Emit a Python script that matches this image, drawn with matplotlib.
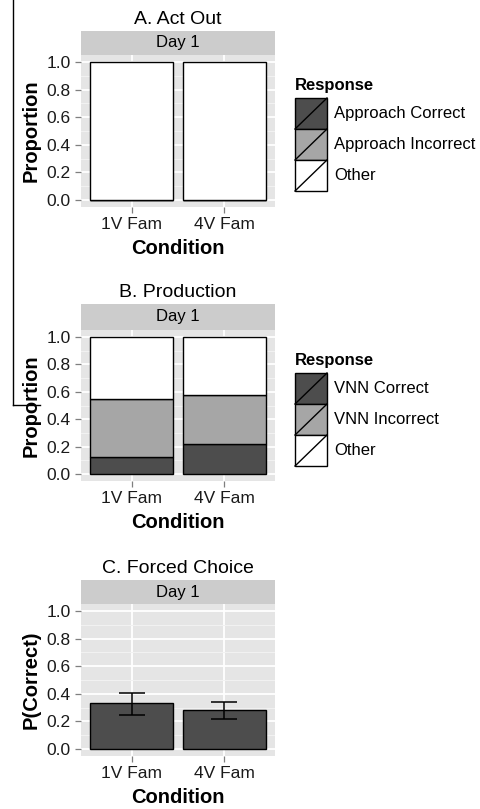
import numpy as np
from matplotlib import pyplot as plt
from matplotlib.patches import Rectangle

plt.rcParams['font.family'] = ['Liberation Sans', 'DejaVu Sans']

# data
conditions = ['1V Fam', '4V Fam']

act_correct = [0.0, 0.0]
act_incorrect = [0.0, 0.0]
act_other = [1.0, 1.0]
act_labels = ['Approach Correct', 'Approach Incorrect', 'Other']

prod_correct = [0.124, 0.218]
prod_incorrect = [0.420, 0.355]
prod_other = [0.456, 0.427]
prod_labels = ['VNN Correct', 'VNN Incorrect', 'Other']

fc_mean = [0.331, 0.280]
fc_low = [0.249, 0.215]
fc_high = [0.408, 0.343]

fills = ['#4d4d4d', '#a6a6a6', '#ffffff']

W, H = 481, 809
fig = plt.figure(figsize=(W / 100, H / 100), dpi=100)


def px_axes(left, top, right, bottom):
    return fig.add_axes([left / W, 1 - bottom / H, (right - left) / W, (bottom - top) / H])


def style_panel(ax, ylabel):
    ax.set_facecolor('#e5e5e5')
    ax.set_xlim(0.45, 2.55)
    ax.set_ylim(-0.05, 1.05)
    ax.set_yticks(np.arange(0, 1.01, 0.2))
    ax.set_yticks(np.arange(0.1, 1.0, 0.2), minor=True)
    ax.set_yticklabels(['%.1f' % v for v in np.arange(0, 1.01, 0.2)])
    ax.set_xticks([1, 2])
    ax.set_xticklabels(conditions)
    ax.grid(which='major', color='white', linewidth=1.3)
    ax.grid(which='minor', axis='y', color='#f2f2f2', linewidth=0.7)
    ax.set_axisbelow(True)
    for s in ax.spines.values():
        s.set_visible(False)
    ax.tick_params(which='major', length=4.5, width=0.9, color='#7f7f7f',
                   labelsize=12.5, labelcolor='#1a1a1a', pad=3)
    ax.tick_params(which='minor', length=0)
    ax.set_xlabel('Condition', fontsize=14.5, fontweight='bold', labelpad=5)
    ax.set_ylabel(ylabel, fontsize=14.5, fontweight='bold', labelpad=4)


def strip(left, top, right, bottom, title):
    s = px_axes(left, top, right, bottom)
    s.set_facecolor('#cccccc')
    s.set_xticks([])
    s.set_yticks([])
    for sp in s.spines.values():
        sp.set_visible(False)
    s.text(0.5, 0.5, 'Day 1', ha='center', va='center', fontsize=12, transform=s.transAxes)
    s.set_title(title, fontsize=14, pad=5)


def stacked(ax, layers):
    x = np.arange(1, len(conditions) + 1)
    base = np.zeros(len(conditions))
    for vals, col in zip(layers, fills):
        ax.bar(x, vals, 0.9, bottom=base, color=col, edgecolor='black', linewidth=1.0)
        base = base + np.array(vals)


# overlay for legends and page artefact
ov = fig.add_axes([0, 0, 1, 1], zorder=-1)
ov.set_xlim(0, W)
ov.set_ylim(H, 0)
ov.axis('off')


def legend(top, labels):
    ov.text(295, top, 'Response', fontsize=12, fontweight='bold', va='center', ha='left')
    y = top + 13
    for lab, col in zip(labels, fills):
        ov.add_patch(Rectangle((295, y), 32, 31, facecolor=col, edgecolor='black', linewidth=1.0))
        ov.plot([295, 327], [y + 31, y], color='black', linewidth=1.0)
        ov.text(334, y + 15.5, lab, fontsize=12, va='center', ha='left')
        y += 31


# A. Act Out
axA = px_axes(81, 55, 275, 207)
style_panel(axA, 'Proportion')
stacked(axA, [act_correct, act_incorrect, act_other])
strip(81, 31, 275, 55, 'A. Act Out')
legend(85, act_labels)

# B. Production
axB = px_axes(81, 330, 275, 481)
style_panel(axB, 'Proportion')
stacked(axB, [prod_correct, prod_incorrect, prod_other])
strip(81, 304, 275, 330, 'B. Production')
legend(360, prod_labels)

# C. Forced Choice
axC = px_axes(81, 604, 275, 756)
style_panel(axC, 'P(Correct)')
xc = np.arange(1, len(conditions) + 1)
axC.bar(xc, fc_mean, 0.9, color=fills[0], edgecolor='black', linewidth=1.0)
err = [np.array(fc_mean) - np.array(fc_low), np.array(fc_high) - np.array(fc_mean)]
axC.errorbar(xc, fc_mean, yerr=err, fmt='none', ecolor='black', elinewidth=1.1,
             capsize=9.5, capthick=1.1)
strip(81, 580, 275, 604, 'C. Forced Choice')

# scan artefact at the left edge
ov.plot([13, 13], [0, 405], color='black', linewidth=1.0)
ov.plot([13, 40], [405, 405], color='black', linewidth=1.0)

fig.savefig('out.png', dpi=100)
